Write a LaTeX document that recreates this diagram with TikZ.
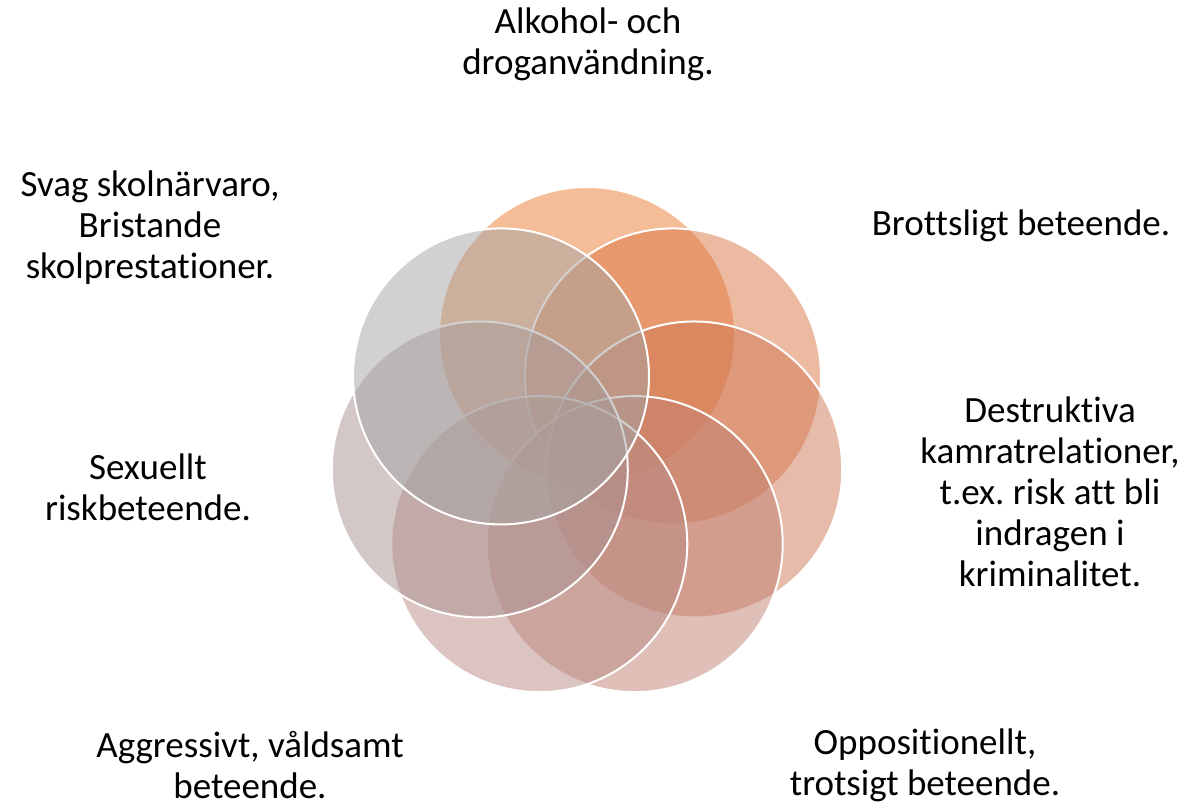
\documentclass[tikz,border=0pt]{standalone}
\usepackage{fontspec}
\setmainfont[Ligatures=NoCommon]{Carlito}
\usetikzlibrary{calc}
\frenchspacing
\definecolor{c1}{HTML}{ED7D31}
\definecolor{c2}{HTML}{DB7745}
\definecolor{c3}{HTML}{D17957}
\definecolor{c4}{HTML}{C18171}
\definecolor{c5}{HTML}{B98B85}
\definecolor{c6}{HTML}{AB9191}
\definecolor{c7}{HTML}{A5A5A5}
\tikzset{
  petal/.style={draw=white, line width=2pt, fill opacity=0.5, draw opacity=1},
  lbl/.style={align=center, inner sep=0pt, font=\fontsize{37}{41}\selectfont, text=black}
}
\begin{document}
\begin{tikzpicture}[x=1pt,y=-1pt]
\useasboundingbox (0,0) rectangle (1186,806);
\fill[white] (0,0) rectangle (1186,806);
\coordinate (ctr) at (587,445);
\foreach \i in {1,...,7}{
  \pgfmathsetmacro{\ang}{90-(\i-1)*360/7}
  \filldraw[petal, fill=c\i] ($(ctr)+({110*cos(\ang)},{-110*sin(\ang)})$) circle[radius=148];
}
\node[lbl] (t1) at (588,44) {Alkohol- och\\droganvändning.};
\node[lbl] (t2) at (1021,226) {Brottsligt beteende.};
\node[lbl] (t3) at (1050,492) {Destruktiva\\kamratrelationer,\\t.ex. risk att bli\\indragen i\\kriminalitet.};
\node[lbl] (t4) at (925,765) {Oppositionellt,\\trotsigt beteende.};
\node[lbl] (t5) at (250,765) {Aggressivt, våldsamt\\beteende.};
\node[lbl] (t6) at (148,487) {Sexuellt\\riskbeteende.};
\node[lbl] (t7) at (150,228) {Svag skolnärvaro,\\Bristande\\skolprestationer.};
\end{tikzpicture}
\end{document}
